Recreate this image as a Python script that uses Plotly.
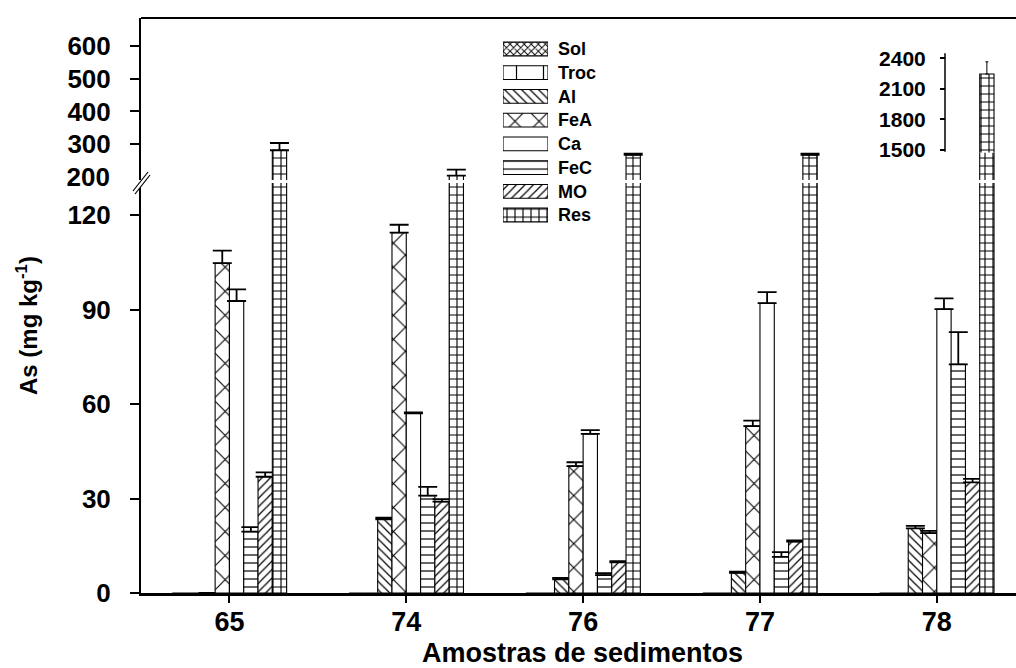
import plotly.graph_objects as go

# ---------------- data ----------------
samples = ["65", "74", "76", "77", "78"]
fractions = ["Sol", "Troc", "Al", "FeA", "Ca", "FeC", "MO", "Res"]

sol = [0, 0, 0, 0, 0]
troc = [0, 0, 0, 0, 0]
al = [0, 23.4, 4.3, 6.4, 20.5]
fea = [104.7, 114.4, 40.3, 53.0, 19.0]
ca = [92.7, 57.0, 50.5, 92.0, 90.1]
fec = [19.5, 30.9, 5.7, 11.5, 72.6]
mo = [36.9, 29.0, 9.7, 16.3, 35.1]
res = [282, 205, 268, 268, 2245]

sol_sd = [0, 0, 0, 0, 0]
troc_sd = [0, 0, 0, 0, 0]
al_sd = [0, 0.5, 0.5, 0.4, 0.8]
fea_sd = [4.0, 2.5, 1.2, 1.7, 0.7]
ca_sd = [3.7, 0.3, 1.2, 3.5, 3.4]
fec_sd = [1.4, 2.8, 0.6, 1.5, 10.2]
mo_sd = [1.4, 0.8, 0.4, 0.4, 1.1]
res_sd = [22, 18, 4, 4, 120]

lower_ticks = [0, 30, 60, 90, 120]
upper_ticks = [300, 400, 500, 600]
upper_break_label = [200]
inset_ticks = [1500, 1800, 2100, 2400]

values = dict(Sol=sol, Troc=troc, Al=al, FeA=fea, Ca=ca, FeC=fec, MO=mo, Res=res)
errors = dict(Sol=sol_sd, Troc=troc_sd, Al=al_sd, FeA=fea_sd, Ca=ca_sd,
              FeC=fec_sd, MO=mo_sd, Res=res_sd)

# ---------------- styling ----------------
patterns = {
    "Sol": dict(shape="x", size=5, solidity=0.33),
    "Troc": dict(shape="|", size=27, solidity=0.045),
    "Al": dict(shape="\\", size=6, solidity=0.2),
    "FeA": dict(shape="x", size=17, solidity=0.125),
    "Ca": dict(shape="", size=8, solidity=0.2),
    "FeC": dict(shape="-", size=8, solidity=0.15),
    "MO": dict(shape="/", size=6, solidity=0.2),
    "Res": dict(shape="+", size=8, solidity=0.26),
}

W, H = 1016, 668
ML, MR, MT, MB = 141, 0, 18, 75
PW, PH = W - ML - MR, H - MT - MB


def xp(px):
    return (px - ML) / PW


def yp(py):
    return (H - MB - py) / PH


FONT = "Liberation Sans, Arial, sans-serif"
CAT_PX = 176.85
X_RANGE = [-0.5, -0.5 + PW / CAT_PX]
BAR_W = 14.3 / CAT_PX

LOW_RANGE = [0, (H - MB - 183) / 3.15]
UP_RANGE = [200 - (180 - 177.2) / 0.329, 600 + (45.7 - MT) / 0.329]
INSET_RANGE = [1500 - (152.5 - 149.8) / 0.1017, 1500 + (149.8 - MT) / 0.1017]
INSET_X = 945


def marker_for(name):
    p = patterns[name]
    return dict(
        color="white",
        line=dict(color="black", width=1.1),
        pattern=dict(shape=p["shape"], size=p["size"], solidity=p["solidity"],
                     fgcolor="black", bgcolor="white", fillmode="replace", fgopacity=1),
    )


fig = go.Figure()

n = len(fractions)
for i, name in enumerate(fractions):
    offset = (i - n / 2) * BAR_W
    has_err = any(e > 0 for e in errors[name])
    # lower panel on y, upper panel on y2 (the residual fraction on its twin y5,
    # which carries the "200" label at the break)
    upper_axis = "y5" if name == "Res" else "y2"
    for ya in ("y", upper_axis):
        err = dict(type="data", array=errors[name], arrayminus=[0] * len(samples),
                   symmetric=False, color="black", thickness=1.8, width=9.5,
                   visible=has_err)
        fig.add_trace(go.Bar(
            x=samples, y=values[name], name=name, xaxis="x", yaxis=ya,
            width=BAR_W, offset=offset, marker=marker_for(name),
            error_y=err, showlegend=False, hoverinfo="skip",
        ))

# inset panel with the large residual fraction
res_i = fractions.index("Res")
fig.add_trace(go.Bar(
    x=samples, y=res, name="Res", xaxis="x3", yaxis="y3",
    width=BAR_W, offset=(res_i - n / 2) * BAR_W, marker=marker_for("Res"),
    error_y=dict(type="data", array=res_sd, arrayminus=[0] * len(samples),
                 symmetric=False, color="black", thickness=1, width=1.5),
    showlegend=False, hoverinfo="skip",
))

# pattern key drawn as its own small panel
for name in fractions:
    fig.add_trace(go.Bar(
        x=[1], y=[name], orientation="h", xaxis="x4", yaxis="y4",
        width=0.58, marker=marker_for(name), showlegend=False, hoverinfo="skip",
    ))

tick_font = dict(family=FONT, size=26, color="black", weight="bold")
common_y = dict(showgrid=False, zeroline=False, showline=True, linecolor="black",
                linewidth=2, ticks="outside", ticklen=9, tickwidth=2, tickcolor="black",
                tickfont=tick_font, ticklabelstandoff=14)

fig.update_layout(
    width=W, height=H,
    margin=dict(l=ML, r=MR, t=MT, b=MB),
    paper_bgcolor="white", plot_bgcolor="white",
    barmode="overlay",
    xaxis=dict(domain=[0, 1], range=X_RANGE, type="category", categoryarray=samples,
               anchor="y", showgrid=False, zeroline=False, showline=True,
               linecolor="black", linewidth=2.6, ticks="outside", ticklen=7,
               tickwidth=1.5, tickcolor="black", ticklabelstandoff=-4,
               tickfont=dict(family=FONT, size=27, color="black", weight="bold")),
    yaxis=dict(domain=[0, yp(183)], range=LOW_RANGE, tickvals=lower_ticks,
               anchor="x", **common_y),
    yaxis2=dict(domain=[yp(180), 1], range=UP_RANGE, tickvals=upper_ticks,
                anchor="x", **common_y),
    yaxis5=dict(overlaying="y2", range=UP_RANGE, tickvals=upper_break_label,
                anchor="x", side="left", showgrid=False, zeroline=False,
                showline=False, ticks="", tickfont=tick_font, ticklabelstandoff=30),
    xaxis3=dict(domain=[xp(INSET_X), 1], range=[X_RANGE[0] + (INSET_X - ML) / CAT_PX, X_RANGE[1]],
                type="category", categoryarray=samples, anchor="y3", visible=False),
    yaxis3=dict(domain=[yp(152.5), 1], range=INSET_RANGE, tickvals=inset_ticks,
                anchor="free", position=xp(INSET_X), side="left",
                showgrid=False, zeroline=False, showline=False,
                ticks="outside", ticklen=5, tickwidth=1.5, tickcolor="black",
                ticklabelstandoff=10,
                tickfont=dict(family=FONT, size=21, color="black", weight="bold")),
    xaxis4=dict(domain=[xp(503), xp(548)], range=[0, 1], anchor="y4", visible=False),
    yaxis4=dict(domain=[yp(226.9), yp(37.1)], type="category", categoryarray=fractions,
                range=[len(fractions) - 0.5, -0.5], anchor="x4", side="right",
                showgrid=False, zeroline=False, showline=False, ticks="",
                ticklabelstandoff=9,
                tickfont=dict(family=FONT, size=18, color="black", weight="bold")),
)

# frame line along the top and the inset axis line
fig.add_shape(type="line", xref="paper", yref="paper", x0=0, x1=1, y0=1, y1=1,
              line=dict(color="black", width=2), layer="above")
fig.add_shape(type="line", xref="paper", yref="y3", x0=xp(INSET_X), x1=xp(INSET_X),
              y0=1481, y1=2449, line=dict(color="black", width=1.5), layer="above")

# axis break marks
p1, p2, p3, p4 = (133, 191), (148, 172), (150, 175), (135, 194)
fig.add_shape(type="path", xref="paper", yref="paper",
              path="M{},{} L{},{} L{},{} L{},{} Z".format(
                  xp(p1[0]), yp(p1[1]), xp(p2[0]), yp(p2[1]),
                  xp(p3[0]), yp(p3[1]), xp(p4[0]), yp(p4[1])),
              fillcolor="white", line=dict(width=0), layer="above")
for a, b in ((p1, p2), (p4, p3)):
    fig.add_shape(type="line", xref="paper", yref="paper",
                  x0=xp(a[0]), y0=yp(a[1]), x1=xp(b[0]), y1=yp(b[1]),
                  line=dict(color="black", width=1.2), layer="above")

fig.add_annotation(text="As (mg kg<sup>-1</sup>)", textangle=-90, showarrow=False,
                   xref="paper", yref="paper", x=xp(27), y=yp(326),
                   xanchor="center", yanchor="middle",
                   font=dict(family=FONT, size=24, color="black", weight="bold"))
fig.add_annotation(text="Amostras de sedimentos", showarrow=False,
                   xref="paper", yref="paper", x=xp(582), y=yp(653),
                   xanchor="center", yanchor="middle",
                   font=dict(family=FONT, size=27, color="black", weight="bold"))

fig.write_html("out.html")
